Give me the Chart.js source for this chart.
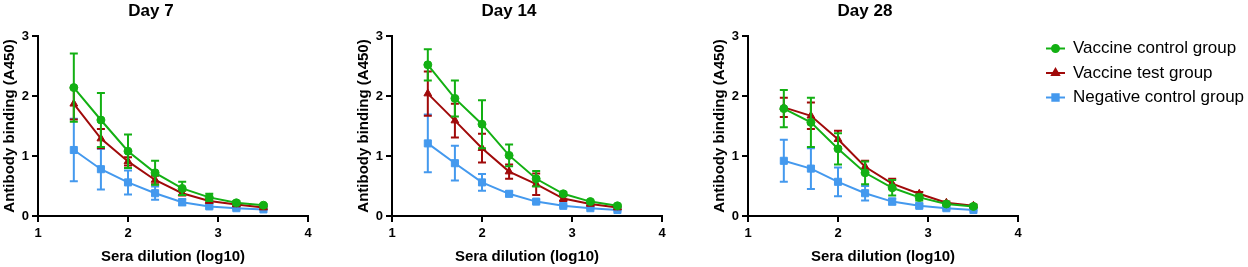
<!DOCTYPE html>
<html><head><meta charset="utf-8">
<script src="https://cdn.jsdelivr.net/npm/chart.js@4.4.1/dist/chart.umd.min.js"></script>
<style>
html,body{margin:0;padding:0;background:#fff;width:1248px;height:267px;overflow:hidden;}
.p{position:absolute;top:0;height:267px;}
canvas{display:block;}
</style></head><body>
<div class="p" style="left:0;width:316px"><canvas id="c1" width="316" height="267"></canvas></div>
<div class="p" style="left:354px;width:316px"><canvas id="c2" width="316" height="267"></canvas></div>
<div class="p" style="left:710px;width:538px"><canvas id="c3" width="538" height="267"></canvas></div>
<script>
// ---- data ----
const dilutions = [1.398, 1.699, 2.0, 2.301, 2.602, 2.903, 3.204, 3.505];
const seriesNames = ['Vaccine control group', 'Vaccine test group', 'Negative control group'];
const panelTitles = ['Day 7', 'Day 14', 'Day 28'];
const xTickValues = [1, 2, 3, 4];
const yTickValues = [0, 1, 2, 3];
const xAxisTitle = 'Sera dilution (log10)';
const yAxisTitle = 'Antibody binding (A450)';

const day7Control = [2.14, 1.60, 1.08, 0.72, 0.46, 0.31, 0.22, 0.18];
const day7ControlSD = [0.57, 0.45, 0.28, 0.20, 0.11, 0.06, 0.03, 0.02];
const day7Test = [1.87, 1.29, 0.91, 0.60, 0.38, 0.25, 0.19, 0.14];
const day7TestSD = [0.26, 0.16, 0.07, 0.07, 0.04, 0.03, 0.02, 0.02];
const day7Neg = [1.10, 0.78, 0.56, 0.38, 0.23, 0.16, 0.13, 0.11];
const day7NegSD = [0.52, 0.34, 0.20, 0.11, 0.05, 0.03, 0.02, 0.01];

const day14Control = [2.52, 1.96, 1.53, 1.01, 0.62, 0.37, 0.24, 0.17];
const day14ControlSD = [0.26, 0.30, 0.40, 0.18, 0.13, 0.03, 0.02, 0.02];
const day14Test = [2.04, 1.59, 1.13, 0.74, 0.53, 0.29, 0.20, 0.14];
const day14TestSD = [0.37, 0.28, 0.24, 0.12, 0.18, 0.04, 0.02, 0.02];
const day14Neg = [1.21, 0.88, 0.56, 0.37, 0.24, 0.17, 0.13, 0.10];
const day14NegSD = [0.48, 0.29, 0.14, 0.04, 0.03, 0.02, 0.01, 0.01];

const day28Control = [1.79, 1.56, 1.12, 0.72, 0.47, 0.31, 0.20, 0.16];
const day28ControlSD = [0.31, 0.41, 0.26, 0.19, 0.13, 0.05, 0.02, 0.02];
const day28Test = [1.81, 1.67, 1.28, 0.82, 0.54, 0.37, 0.22, 0.17];
const day28TestSD = [0.16, 0.22, 0.14, 0.10, 0.08, 0.03, 0.02, 0.02];
const day28Neg = [0.92, 0.79, 0.57, 0.38, 0.24, 0.17, 0.13, 0.10];
const day28NegSD = [0.35, 0.34, 0.24, 0.12, 0.05, 0.03, 0.02, 0.01];

// ---- styles ----
const seriesColors = ['#13b013', '#a00a0a', '#4499ee'];
const seriesPointStyles = ['circle', 'triangle', 'rect'];
const seriesPointRadius = [4, 4.5, 5];
const FONT = "'Liberation Sans', Arial, Helvetica, sans-serif";

const errorBarPlugin = {
  id: 'errorBars',
  beforeDatasetDraw(chart, args) {
    const ds = chart.data.datasets[args.index];
    if (!ds.sd) return;
    const ctx = chart.ctx, xs = chart.scales.x, ys = chart.scales.y;
    ctx.save();
    ctx.strokeStyle = ds.borderColor;
    ctx.lineWidth = 2;
    ctx.lineCap = 'butt';
    ds.data.forEach((p, j) => {
      const s = ds.sd[j];
      const x = xs.getPixelForValue(p.x);
      const yt = ys.getPixelForValue(p.y + s);
      const yb = ys.getPixelForValue(p.y - s);
      ctx.beginPath();
      ctx.moveTo(x, yt); ctx.lineTo(x, yb);
      ctx.moveTo(x - 4, yt); ctx.lineTo(x + 4, yt);
      ctx.moveTo(x - 4, yb); ctx.lineTo(x + 4, yb);
      ctx.stroke();
    });
    ctx.restore();
  }
};

const panelTitlePlugin = {
  id: 'panelTitle',
  afterDraw(chart, args, opts) {
    const ctx = chart.ctx;
    ctx.save();
    ctx.font = 'bold 17px ' + FONT;
    ctx.fillStyle = '#000';
    ctx.textAlign = 'center';
    ctx.textBaseline = 'alphabetic';
    ctx.fillText(opts.text, chart.chartArea.left + opts.offset, 16);
    ctx.restore();
  }
};

const sideLegendPlugin = {
  id: 'sideLegend',
  afterDraw(chart, args, opts) {
    if (!opts.show) return;
    const ctx = chart.ctx;
    const x0 = chart.chartArea.right + 28;
    chart.data.datasets.forEach((ds, i) => {
      const y = 48.5 + i * 24.5;
      ctx.save();
      ctx.strokeStyle = ds.borderColor;
      ctx.lineWidth = 2;
      ctx.beginPath(); ctx.moveTo(x0, y); ctx.lineTo(x0 + 19, y); ctx.stroke();
      ctx.fillStyle = ds.backgroundColor;
      Chart.helpers.drawPoint(ctx, {pointStyle: ds.pointStyle, radius: ds.pointRadius - 0.5, borderWidth: 1, rotation: 0}, x0 + 9.5, y);
      ctx.fill();
      ctx.font = '17px ' + FONT;
      ctx.fillStyle = '#000';
      ctx.textAlign = 'left';
      ctx.textBaseline = 'middle';
      ctx.fillText(ds.label, x0 + 27, y);
      ctx.restore();
    });
  }
};

function makeChart(id, title, titleOffset, series, sds, rightPad, showLegend) {
  const datasets = series.map((vals, i) => ({
    label: seriesNames[i],
    data: vals.map((v, j) => ({x: dilutions[j], y: v})),
    sd: sds[i],
    borderColor: seriesColors[i],
    backgroundColor: seriesColors[i],
    pointBackgroundColor: seriesColors[i],
    pointBorderColor: seriesColors[i],
    pointStyle: seriesPointStyles[i],
    pointRadius: seriesPointRadius[i],
    pointBorderWidth: 1,
    borderWidth: 2,
    tension: 0,
    fill: false
  }));
  const axisCommon = {
    type: 'linear',
    border: {display: true, color: '#000', width: 2},
    grid: {display: true, drawOnChartArea: false, drawTicks: true, tickLength: 6, color: '#000', lineWidth: 2},
  };
  return new Chart(document.getElementById(id), {
    type: 'line',
    data: {datasets},
    options: {
      responsive: false,
      animation: false,
      events: [],
      layout: {padding: {top: 36, right: rightPad, bottom: 0, left: 0}},
      plugins: {
        legend: {display: false},
        tooltip: {enabled: false},
        title: {display: false},
        panelTitle: {text: title, offset: titleOffset},
        sideLegend: {show: showLegend}
      },
      scales: {
        x: Object.assign({}, axisCommon, {
          min: xTickValues[0], max: xTickValues[xTickValues.length - 1],
          afterBuildTicks: s => { s.ticks = xTickValues.map(v => ({value: v})); },
          afterFit: s => { s.height = 51; },
          ticks: {color: '#000', padding: 4, font: {family: FONT, size: 13, weight: 'bold'}},
          title: {display: true, text: xAxisTitle, color: '#000', padding: {top: 0, bottom: 1}, font: {family: FONT, size: 15, weight: 'bold'}}
        }),
        y: Object.assign({}, axisCommon, {
          min: yTickValues[0], max: yTickValues[yTickValues.length - 1],
          afterBuildTicks: s => { s.ticks = yTickValues.map(v => ({value: v})); },
          afterFit: s => { s.width = 38; },
          ticks: {color: '#000', padding: 3, font: {family: FONT, size: 13, weight: 'bold'}},
          title: {display: true, text: yAxisTitle, color: '#000', padding: {top: 1, bottom: 0}, font: {family: FONT, size: 15, weight: 'bold'}}
        })
      }
    },
    plugins: [errorBarPlugin, panelTitlePlugin, sideLegendPlugin]
  });
}

makeChart('c1', panelTitles[0], 113, [day7Control, day7Test, day7Neg], [day7ControlSD, day7TestSD, day7NegSD], 8, false);
makeChart('c2', panelTitles[1], 117, [day14Control, day14Test, day14Neg], [day14ControlSD, day14TestSD, day14NegSD], 8, false);
makeChart('c3', panelTitles[2], 117, [day28Control, day28Test, day28Neg], [day28ControlSD, day28TestSD, day28NegSD], 230, true);
</script>
</body></html>
